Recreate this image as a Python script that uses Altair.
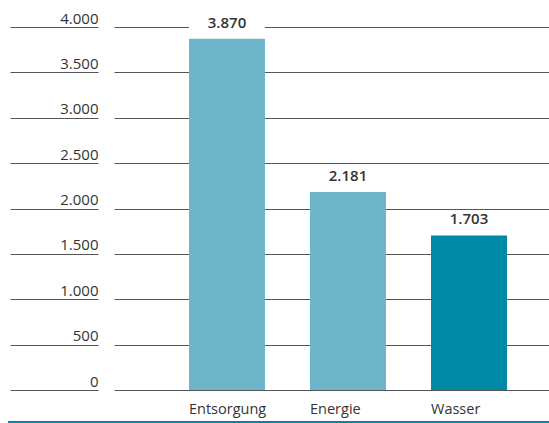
import altair as alt
import pandas as pd

categories = ["Entsorgung", "Energie", "Wasser"]
values = [3870, 2181, 1703]
bar_colors = ["#6db6ca", "#6db6ca", "#0089a7"]
y_ticks = [0, 500, 1000, 1500, 2000, 2500, 3000, 3500, 4000]

df = pd.DataFrame({"cat": categories, "value": values})

FONT = "Open Sans"
GRID = "#555555"
TEXT = "#333333"
de_fmt = "replace(format(datum.value, ','), ',', '.')"

x = alt.X(
    "cat:N",
    sort=categories,
    scale=alt.Scale(paddingInner=0.372, paddingOuter=0.4835, align=0.641),
    axis=alt.Axis(
        title=None, labelAlign="left", labelAngle=0, labelOffset=-38,
        domain=False, ticks=False, grid=False, labelPadding=12,
        labelBaseline="top", labelFontSize=14.5, labelColor=TEXT, labelFont=FONT,
    ),
)
y_axis = alt.Axis(
    title=None, values=y_ticks, offset=16, tickSize=88, tickColor=GRID,
    tickWidth=1, domain=False, grid=True, gridColor=GRID, gridWidth=1,
    labelAlign="right", labelPadding=-88, labelBaseline="alphabetic",
    labelOffset=-4, labelFontSize=15, labelColor=TEXT, labelFont=FONT,
    labelExpr=de_fmt, labelOverlap=False, labelBound=False, labelFlush=False,
)
y = alt.Y("value:Q", scale=alt.Scale(domain=[0, 4000], nice=False), axis=y_axis)

base = alt.Chart(df)

bars = base.mark_bar().encode(
    x=x,
    y=y,
    color=alt.Color("cat:N", scale=alt.Scale(domain=categories, range=bar_colors), legend=None),
)

box = base.mark_rect(color="white", yOffset=-18, y2Offset=-1).encode(
    x=alt.X("cat:N", sort=categories),
    y=alt.Y("value:Q"),
    y2=alt.Y2("value"),
)

labels = base.transform_calculate(label=de_fmt).mark_text(
    dy=-11, baseline="alphabetic", fontWeight=600, fontSize=15,
    color=TEXT, font=FONT,
).encode(
    x=alt.X("cat:N", sort=categories),
    y=alt.Y("value:Q"),
    text="label:N",
)

bottom_line = alt.Chart(alt.Data(values=[{}])).mark_rule(
    color="#0089a7", strokeWidth=2
).encode(x=alt.value(-106), x2=alt.value(435), y=alt.value(395))

chart = alt.layer(bars, box, labels, bottom_line).properties(
    width=435, height=363,
    autosize=alt.AutoSizeParams(type="none"),
    padding={"left": 114, "top": 27, "right": 0, "bottom": 33},
).configure_view(stroke=None)

chart.save("out.html", embed_options={"renderer": "svg", "actions": False})
